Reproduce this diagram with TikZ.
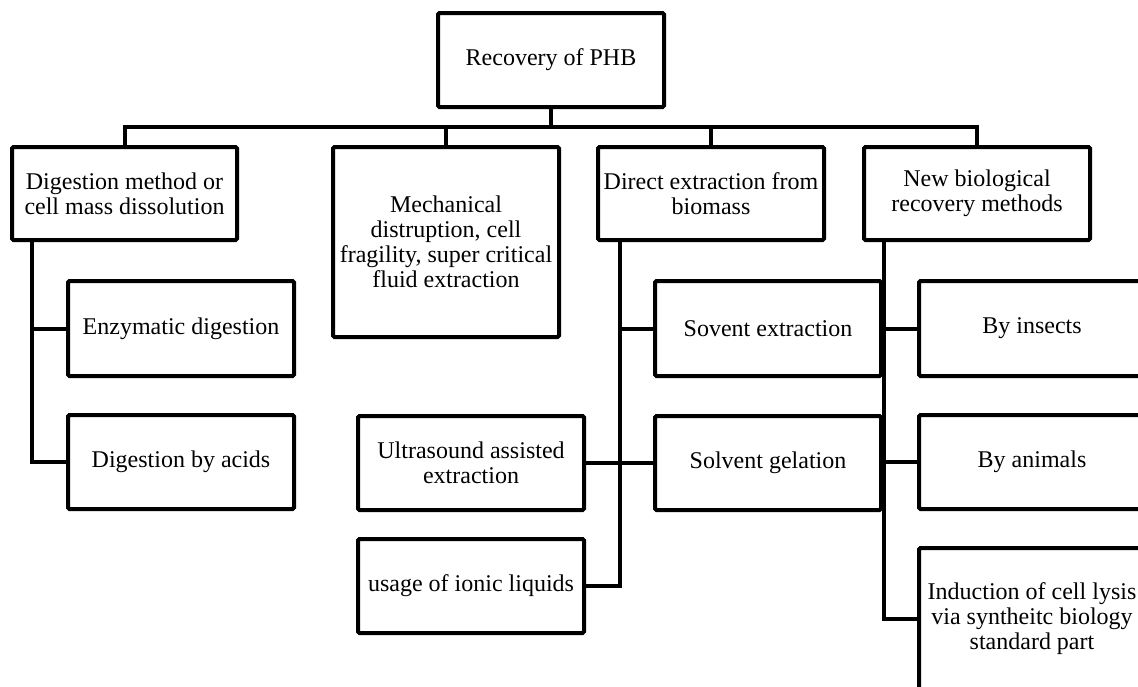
\documentclass[tikz,border=0pt]{standalone}
\usepackage{fontspec}
\setmainfont{Liberation Serif}
\begin{document}
\begin{tikzpicture}[x=1pt,y=-1pt,
  box/.style={draw=black,line width=4pt,rounded corners=1.5pt,inner sep=0pt,
    minimum width=226pt,minimum height=94pt,align=center,
    font=\fontsize{24}{25}\selectfont,text=black},
  link/.style={draw=black,line width=4pt}]
\useasboundingbox (0,0) rectangle (1138,686);
\clip (0,0) rectangle (1138,686);
\fill[white] (0,0) rectangle (1138,686);
% nodes
\node[box] (top) at (551,60) {Recovery of PHB};
\node[box,minimum width=225pt,minimum height=93pt] (dig) at (124.5,193.5) {Digestion method or\\cell mass dissolution};
\node[box,minimum height=190pt] (mech) at (446,242) {Mechanical\\distruption, cell\\fragility, super critical\\fluid extraction};
\node[box,minimum height=93pt] (dir) at (711,193.5) {Direct extraction from\\biomass};
\node[box,minimum height=93pt] (nb) at (977,193.5) {New biological\\recovery methods};
\node[box,minimum height=95pt] (enz) at (181,328.5) {Enzymatic digestion};
\node[box] (acid) at (181,462) {Digestion by acids};
\node[box,minimum height=95pt] (sov) at (768,328.5) {Sovent extraction};
\node[box] (gel) at (768,463) {Solvent gelation};
\node[box] (ult) at (471,463) {Ultrasound assisted\\extraction};
\node[box] (ion) at (471,586) {usage of ionic liquids};
\node[box,minimum height=95pt] (ins) at (1032,328.5) {By insects};
\node[box] (ani) at (1032,462) {By animals};
\node[box,minimum height=142pt] (ind) at (1032,619) {Induction of cell lysis\\via syntheitc biology\\standard part};
% connectors
\coordinate (bus) at (551,127);
\draw[link] (top.south) -- (bus);
\draw[link] (dig.north) |- (bus) -| (nb.north);
\draw[link] (mech.north) -- (mech.north |- bus);
\draw[link] (dir.north) -- (dir.north |- bus);
\coordinate (dv) at ([xshift=22pt]dig.south west);
\draw[link] (dv) |- (enz.west);
\draw[link] (dv) |- (acid.west);
\coordinate (rv) at ([xshift=24pt]dir.south west);
\draw[link] (rv) |- (sov.west);
\draw[link] (rv) |- (ion.east);
\draw[link] (ult.east) -- (gel.west);
\coordinate (nv) at ([xshift=22pt]nb.south west);
\draw[link] (nv) |- (ins.west);
\draw[link] (nv) |- (ani.west);
\draw[link] (nv) |- (ind.west);
\end{tikzpicture}
\end{document}
